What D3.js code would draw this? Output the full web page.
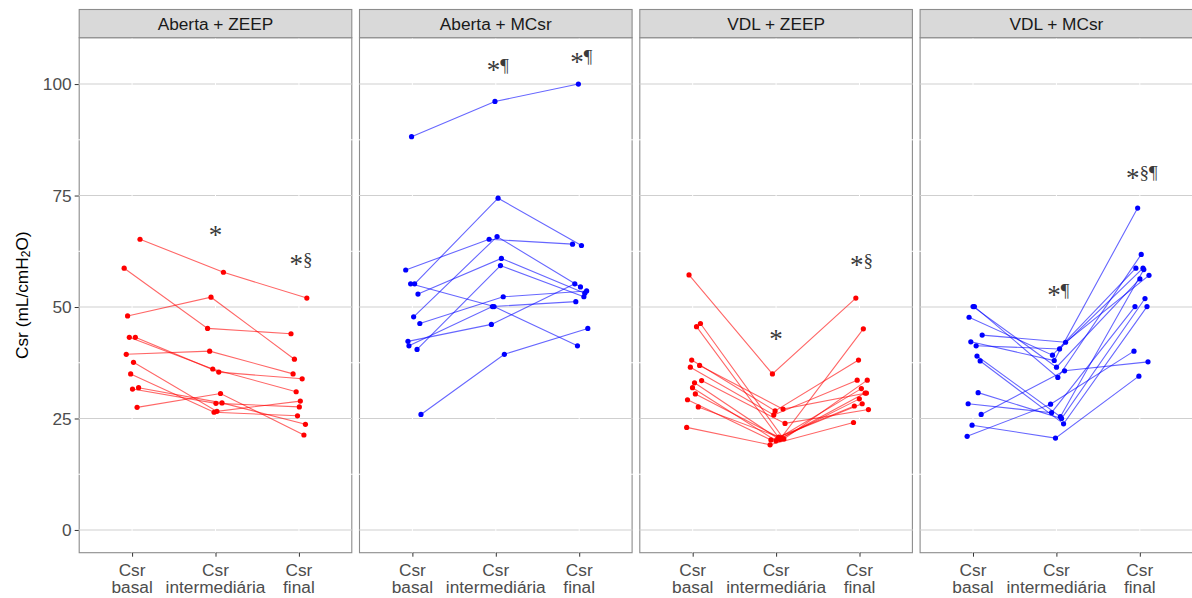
<!DOCTYPE html>
<html><head><meta charset="utf-8">
<script src="https://cdn.jsdelivr.net/npm/d3@7"></script>
<style>body{margin:0;background:#fff;overflow:hidden}</style>
</head><body>
<svg id="c" width="1192" height="598"></svg>
<script>
// ---------- data ----------
const panelNames = ["Aberta + ZEEP", "Aberta + MCsr", "VDL + ZEEP", "VDL + MCsr"];
const panelColors = ["#ff0000", "#0000ff", "#ff0000", "#0000ff"];
const timeLine1 = ["Csr", "Csr", "Csr"];
const timeLine2 = ["basal", "intermediária", "final"];
const yTickValues = [0, 25, 50, 75, 100];
const yMinorValues = [12.5, 37.5, 62.5, 87.5];

// Aberta + ZEEP
const abertaZeepBasal = [58.7, 39.4, 48.0, 43.2, 35.0, 31.6, 37.6, 43.2, 27.5, 31.9, 65.2];
const abertaZeepInter = [45.2, 40.1, 52.2, 36.1, 26.4, 28.4, 26.6, 35.4, 30.6, 28.5, 57.8];
const abertaZeepFinal = [44.0, 35.0, 38.3, 31.0, 25.6, 27.6, 28.9, 33.9, 21.3, 23.7, 52.0];
const abertaZeepJitter = [-0.095, -0.070, -0.054, -0.033, -0.017, 0.005, 0.017, 0.039, 0.060, 0.078, 0.095];

// Aberta + MCsr
const abertaMcsrBasal = [58.3, 42.3, 41.3, 55.2, 88.2, 47.8, 55.2, 40.5, 52.9, 46.3, 25.9];
const abertaMcsrInter = [65.2, 46.1, 50.1, 50.1, 96.1, 65.8, 74.4, 59.3, 60.9, 52.3, 39.4];
const abertaMcsrFinal = [64.1, 55.2, 51.2, 41.3, 100.0, 54.5, 63.8, 52.3, 53.1, 53.6, 45.2];
const abertaMcsrJitter = [-0.080, -0.053, -0.041, -0.021, -0.010, 0.015, 0.027, 0.056, 0.067, 0.089, 0.103];

// VDL + ZEEP
const vdlZeepBasal = [23.0, 29.2, 57.2, 36.5, 38.1, 31.9, 33.0, 30.5, 45.6, 27.6, 36.9, 46.3, 33.5];
const vdlZeepInter = [19.1, 20.2, 35.0, 25.8, 26.7, 20.0, 20.5, 20.8, 20.3, 20.6, 27.1, 20.4, 23.9];
const vdlZeepFinal = [24.1, 27.8, 52.0, 33.6, 38.1, 29.4, 31.7, 28.3, 45.1, 30.7, 30.7, 33.6, 27.0];
const vdlZeepJitter = [-0.072, -0.062, -0.044, -0.028, -0.012, -0.002, 0.022, 0.032, 0.046, 0.067, 0.083, 0.093, 0.107];

// VDL + MCsr
const vdlMcsrBasal = [21.0, 28.3, 47.7, 42.2, 23.5, 50.1, 50.1, 41.3, 39.0, 30.8, 37.9, 25.9, 43.7];
const vdlMcsrInter = [28.2, 26.3, 39.2, 38.0, 20.6, 36.5, 34.2, 40.6, 25.4, 25.0, 23.8, 35.7, 42.1];
const vdlMcsrFinal = [40.1, 50.1, 58.7, 72.2, 34.5, 56.3, 61.8, 58.7, 58.4, 51.9, 50.1, 37.7, 57.1];
const vdlMcsrJitter = [-0.070, -0.058, -0.047, -0.026, -0.011, 0.001, 0.017, 0.038, 0.048, 0.062, 0.086, 0.098, 0.110];

// significance annotations
const annotPanel = [0, 0, 1, 1, 2, 2, 3, 3];
const annotTime = [2, 3, 2, 3, 2, 3, 2, 3];
const annotText = ["*", "*§", "*¶", "*¶", "*", "*§", "*¶", "*§¶"];
const annotY = [66.9, 60.4, 103.9, 105.8, 43.5, 60.2, 53.4, 79.8];

const panelData = [
  [abertaZeepBasal, abertaZeepInter, abertaZeepFinal, abertaZeepJitter],
  [abertaMcsrBasal, abertaMcsrInter, abertaMcsrFinal, abertaMcsrJitter],
  [vdlZeepBasal, vdlZeepInter, vdlZeepFinal, vdlZeepJitter],
  [vdlMcsrBasal, vdlMcsrInter, vdlMcsrFinal, vdlMcsrJitter]
];

// ---------- layout ----------
const svg = d3.select("#c");
const panelLeft = 78.7, panelW = 273.6, panelGap = 6.7;
const stripTop = 9.5, plotTop = 37.7, plotBottom = 552.7;
const fontSans = "'Liberation Sans', Arial, sans-serif";
const fontSerif = "'Liberation Serif', 'Times New Roman', serif";
const textSize = 17.3;

const y = d3.scaleLinear().domain([-5.1, 110.4]).range([plotBottom, plotTop]);
const line = d3.line();

panelNames.forEach((name, p) => {
  const x0 = panelLeft + p * (panelW + panelGap);
  const x = d3.scaleLinear().domain([0.36, 3.64]).range([x0, x0 + panelW]);
  const g = svg.append("g");

  // background with border
  g.append("rect").attr("x", x0 + 0.5).attr("y", plotTop).attr("width", panelW - 1)
    .attr("height", plotBottom - plotTop).attr("fill", "#fff")
    .attr("stroke", "#8c8c8c").attr("stroke-width", 1.1);

  // minor y grid (white)
  g.selectAll(".minor").data(yMinorValues).join("line")
    .attr("x1", x0 - 0.5).attr("x2", x0 + panelW + 0.5)
    .attr("y1", d => y(d)).attr("y2", d => y(d))
    .attr("stroke", "#fff").attr("stroke-width", 1);
  // major y grid
  g.selectAll(".major").data(yTickValues).join("line")
    .attr("x1", x0).attr("x2", x0 + panelW)
    .attr("y1", d => y(d)).attr("y2", d => y(d))
    .attr("stroke", "#cfcfcf").attr("stroke-width", 1.1);
  // major x grid (white)
  g.selectAll(".xg").data([1, 2, 3]).join("line")
    .attr("x1", d => x(d)).attr("x2", d => x(d))
    .attr("y1", plotTop).attr("y2", plotBottom)
    .attr("stroke", "#fff").attr("stroke-width", 1);

  // strip
  g.append("rect").attr("x", x0 + 0.5).attr("y", stripTop).attr("width", panelW - 1)
    .attr("height", plotTop - stripTop).attr("fill", "#d9d9d9")
    .attr("stroke", "#8c8c8c").attr("stroke-width", 1.1);
  g.append("text").attr("x", x0 + panelW / 2).attr("y", (stripTop + plotTop) / 2 + 0.5)
    .attr("text-anchor", "middle").attr("dominant-baseline", "central")
    .attr("font-family", fontSans).attr("font-size", textSize).attr("fill", "#1a1a1a")
    .text(name);

  // x ticks & labels
  const ax = g.append("g").attr("transform", `translate(0,${plotBottom})`)
    .call(d3.axisBottom(x).tickValues([1, 2, 3]).tickSize(4).tickFormat(""));
  ax.select(".domain").remove();
  ax.selectAll(".tick line").attr("stroke", "#333").attr("stroke-width", 1);
  [1, 2, 3].forEach((t, i) => {
    const tx = g.append("text").attr("x", x(t)).attr("y", 569.5)
      .attr("text-anchor", "middle").attr("font-family", fontSans)
      .attr("font-size", textSize).attr("fill", "#4d4d4d");
    tx.append("tspan").attr("x", x(t)).attr("dy", "0.35em").text(timeLine1[i]);
    tx.append("tspan").attr("x", x(t)).attr("dy", 17.4).text(timeLine2[i]);
  });

  // data
  const [b, m, f, jit] = panelData[p];
  const color = panelColors[p];
  const subjects = b.map((v, i) => [[1 + jit[i], b[i]], [2 + jit[i], m[i]], [3 + jit[i], f[i]]]);
  g.selectAll(".subj").data(subjects).join("path")
    .attr("d", s => line(s.map(d => [x(d[0]), y(d[1])])))
    .attr("fill", "none").attr("stroke", color).attr("stroke-opacity", 0.6)
    .attr("stroke-width", 1.1);
  g.selectAll(".pt").data(subjects.flat()).join("circle")
    .attr("cx", d => x(d[0])).attr("cy", d => y(d[1])).attr("r", 2.6)
    .attr("fill", color);

  // annotations
  annotPanel.forEach((ap, k) => {
    if (ap !== p) return;
    const txt = annotText[k];
    const t = g.append("text").attr("x", x(annotTime[k]) + (txt.length > 1 ? 2 : 0))
      .attr("y", y(annotY[k]) + 5)
      .attr("text-anchor", "middle").attr("font-family", fontSerif)
      .attr("fill", "#3a3a3a");
    t.append("tspan").attr("font-size", 27).attr("dy", 7.5).text(txt[0]);
    if (txt.length > 1) {
      t.append("tspan").attr("font-size", 19).attr("dy", -7.5).text(txt.slice(1));
    }
  });

  // y axis on first panel
  if (p === 0) {
    const ay = svg.append("g").attr("transform", `translate(${x0},0)`)
      .call(d3.axisLeft(y).tickValues(yTickValues).tickSize(4).tickPadding(3));
    ay.select(".domain").remove();
    ay.selectAll(".tick line").attr("stroke", "#333");
    ay.selectAll(".tick text").attr("font-family", fontSans).attr("font-size", textSize)
      .attr("fill", "#4d4d4d");
  }
});

// y axis title
const title = svg.append("text").attr("transform", `translate(22,${(plotTop + plotBottom) / 2}) rotate(-90)`)
  .attr("text-anchor", "middle").attr("dominant-baseline", "central")
  .attr("font-family", fontSans).attr("font-size", textSize).attr("fill", "#000");
title.append("tspan").text("Csr (mL/cmH");
title.append("tspan").attr("font-size", 12).attr("dy", 4).text("2");
title.append("tspan").attr("dy", -4).text("O)");
</script>
</body></html>
